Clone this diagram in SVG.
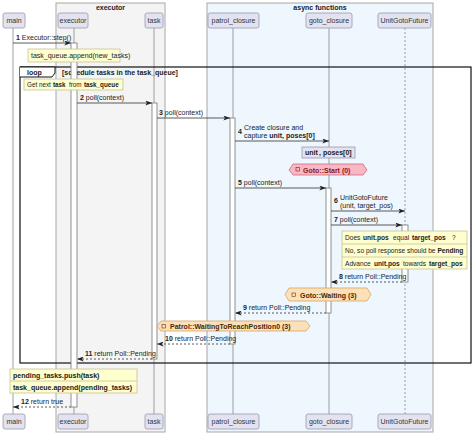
<svg xmlns="http://www.w3.org/2000/svg" width="474" height="435" viewBox="0 0 474 435">
<defs>
<style>
text{font-family:"Liberation Sans",Arial,sans-serif;font-size:7px;fill:#222}
.b{font-weight:bold}
.grp{stroke:#a8a8a8;stroke-width:1}
.part rect{fill:#e2e2f0;stroke:#9a9aae;stroke-width:0.8}
.part text{font-size:7px;text-anchor:middle;fill:#333}
.life{stroke:#888;stroke-width:0.8}
.act{fill:#fff;stroke:#777;stroke-width:0.8}
.msg{stroke:#333;stroke-width:0.8;fill:none}
.ret{stroke:#333;stroke-width:0.8;fill:none;stroke-dasharray:2,2}
.note{fill:#fefece;stroke:#c8c49a;stroke-width:0.8}
.nt{font-size:6.6px}
.ns{font-size:6.3px}
</style>
<marker id="ah" viewBox="0 0 8 6" refX="8" refY="3" markerWidth="7" markerHeight="5" orient="auto" markerUnits="userSpaceOnUse">
<path d="M0,0 L8,3 L0,6 L2,3 Z" fill="#222"/>
</marker>
</defs>

<!-- group boxes -->
<g id="box-executor">
<rect class="grp" x="56" y="3" width="109" height="429" fill="#f4f4f4"/>
<text class="b" x="110.5" y="10" text-anchor="middle">executor</text>
</g>
<g id="box-async">
<rect class="grp" x="207" y="3" width="226" height="429" fill="#eef6fe"/>
<text class="b" x="320" y="10" text-anchor="middle">async functions</text>
</g>

<!-- lifelines -->
<g id="lifelines">
<line class="life" x1="13" y1="28" x2="13" y2="414"/>
<line class="life" x1="74" y1="28" x2="74" y2="414"/>
<line class="life" x1="154" y1="28" x2="154" y2="414"/>
<line class="life" x1="233" y1="28" x2="233" y2="414"/>
<line class="life" x1="329" y1="28" x2="329" y2="414"/>
<line class="life" x1="405" y1="28" x2="405" y2="414" stroke-dasharray="2,2"/>
</g>

<!-- participants -->
<g id="p-main" class="part"><rect x="3" y="13" width="22" height="15" rx="2"/><text x="14" y="23">main</text>
<rect x="3" y="414" width="22" height="15" rx="2"/><text x="14" y="424">main</text></g>
<g id="p-executor" class="part"><rect x="58" y="13" width="30" height="15" rx="2"/><text x="73" y="23">executor</text>
<rect x="58" y="414" width="30" height="15" rx="2"/><text x="73" y="424">executor</text></g>
<g id="p-task" class="part"><rect x="145" y="13" width="18" height="15" rx="2"/><text x="154" y="23">task</text>
<rect x="145" y="414" width="18" height="15" rx="2"/><text x="154" y="424">task</text></g>
<g id="p-patrol" class="part"><rect x="208" y="13" width="51" height="15" rx="2"/><text x="233.5" y="23">patrol_closure</text>
<rect x="208" y="414" width="51" height="15" rx="2"/><text x="233.5" y="424">patrol_closure</text></g>
<g id="p-goto" class="part"><rect x="306" y="13" width="46" height="15" rx="2"/><text x="329" y="23">goto_closure</text>
<rect x="306" y="414" width="46" height="15" rx="2"/><text x="329" y="424">goto_closure</text></g>
<g id="p-future" class="part"><rect x="378" y="13" width="53" height="15" rx="2"/><text x="404.5" y="23">UnitGotoFuture</text>
<rect x="378" y="414" width="53" height="15" rx="2"/><text x="404.5" y="424">UnitGotoFuture</text></g>

<!-- loop frame -->
<g id="loop">
<rect x="20" y="67" width="451" height="296" fill="none" stroke="#111" stroke-width="1.2"/>
<path d="M20,67 H55 V73 L52,77 H20" fill="#fff" stroke="#111" stroke-width="1"/>
<text class="b" x="27" y="75">loop</text>
<text class="b" x="62" y="75" font-size="6.3">[schedule tasks in the task_queue]</text>
</g>

<!-- activations -->
<g id="activations">
<rect class="act" x="71" y="43" width="6" height="364"/>
<rect class="act" x="152" y="103" width="5" height="256"/>
<rect class="act" x="230" y="118" width="5" height="226"/>
<rect class="act" x="326" y="188" width="5" height="125"/>
<rect class="act" x="402" y="225" width="6" height="57"/>
</g>

<!-- notes -->
<g id="note-append">
<rect class="note" x="28" y="49" width="92" height="13"/>
<text x="31" y="58">task_queue.append(new_tasks)</text>
</g>
<g id="note-next">
<rect class="note" x="24" y="79" width="99" height="11"/>
<text class="ns" x="27" y="87">Get next</text>
<text class="ns b" x="53" y="87">task</text>
<text class="ns" x="69" y="87">from</text>
<text class="ns b" x="84" y="87">task_queue</text>
</g>
<g id="note-capture">
<rect x="302" y="147" width="53" height="11" fill="#e2e2f0" stroke="#9a9aae" stroke-width="0.8"/>
<text class="b" x="305" y="155">unit</text>
<text class="b" x="319" y="155">, poses[0]</text>
</g>
<g id="hex-start">
<polygon points="289,170 293,164 363,164 367,170 363,175 293,175" fill="#f7b7c3" stroke="#d06a80" stroke-width="0.8"/>
<rect x="296" y="167.5" width="3.5" height="3.5" fill="none" stroke="#8b1a1a" stroke-width="0.6"/>
<text class="b" x="303" y="172.5" style="fill:#8b1a1a">Goto::Start (0)</text>
</g>
<g id="note-future">
<rect class="note" x="342" y="231" width="125" height="38"/>
<line x1="342" y1="244" x2="467" y2="244" stroke="#c8c49a" stroke-width="0.8"/>
<line x1="342" y1="257" x2="467" y2="257" stroke="#c8c49a" stroke-width="0.8"/>
<text class="nt" x="345" y="240">Does</text>
<text class="nt b" x="363" y="240">unit.pos</text>
<text class="nt" x="393" y="240">equal</text>
<text class="nt b" x="412" y="240">target_pos</text>
<text class="nt" x="452" y="240">?</text>
<text class="nt" x="345" y="253">No, so poll response should be <tspan class="b">Pending</tspan></text>
<text class="nt" x="345" y="266">Advance</text>
<text class="nt b" x="374" y="266">unit.pos</text>
<text class="nt" x="403" y="266">towards</text>
<text class="nt b" x="429" y="266">target_pos</text>
</g>
<g id="hex-waiting">
<polygon points="285,294.5 289,288 367,288 371,294.5 367,301 289,301" fill="#fde0b8" stroke="#d4a46a" stroke-width="0.8"/>
<rect x="292" y="293" width="3.5" height="3.5" fill="none" stroke="#5a3a10" stroke-width="0.6"/>
<text class="b" x="300" y="297.5" style="fill:#4a2a00">Goto::Waiting (3)</text>
</g>
<g id="hex-patrol">
<polygon points="157,326 161,321 306,321 310,326 306,331 161,331" fill="#fde0b8" stroke="#d4a46a" stroke-width="0.8"/>
<rect x="162" y="324.5" width="3.5" height="3.5" fill="none" stroke="#5a3a10" stroke-width="0.6"/>
<text class="b" x="170" y="329" style="fill:#4a2a00">Patrol::WaitingToReachPosition0 (3)</text>
</g>
<g id="note-pending">
<rect class="note" x="10" y="369" width="127" height="24"/>
<line x1="10" y1="381" x2="137" y2="381" stroke="#c8c49a" stroke-width="0.8"/>
<text class="b" x="13" y="378">pending_tasks.push(task)</text>
<text class="b" x="13" y="390">task_queue.append(pending_tasks)</text>
</g>

<!-- connectors -->
<g id="connectors">
<line class="msg" x1="13" y1="43" x2="71" y2="43" marker-end="url(#ah)"/>
<text x="16" y="40"><tspan class="b">1</tspan> Executor::step()</text>

<line class="msg" x1="77" y1="103" x2="152" y2="103" marker-end="url(#ah)"/>
<text x="80" y="100"><tspan class="b">2</tspan> poll(context)</text>

<line class="msg" x1="157" y1="118" x2="230" y2="118" marker-end="url(#ah)"/>
<text x="159" y="115"><tspan class="b">3</tspan> poll(context)</text>

<line class="msg" x1="235" y1="141" x2="329" y2="141" marker-end="url(#ah)"/>
<text class="b" x="238" y="134">4</text>
<text x="244" y="130">Create closure and</text>
<text x="244" y="138">capture <tspan class="b">unit, poses[0]</tspan></text>

<line class="msg" x1="235" y1="188" x2="326" y2="188" marker-end="url(#ah)"/>
<text x="238" y="185"><tspan class="b">5</tspan> poll(context)</text>

<line class="msg" x1="331" y1="211" x2="405" y2="211" marker-end="url(#ah)"/>
<text class="b" x="334" y="203">6</text>
<text x="340" y="200">UnitGotoFuture</text>
<text x="340" y="208">(unit, target_pos)</text>

<line class="msg" x1="331" y1="225" x2="402" y2="225" marker-end="url(#ah)"/>
<text x="334" y="222"><tspan class="b">7</tspan> poll(context)</text>

<line class="ret" x1="402" y1="282" x2="331" y2="282" marker-end="url(#ah)"/>
<text x="339" y="279"><tspan class="b">8</tspan> return Poll::Pending</text>

<line class="ret" x1="326" y1="313" x2="235" y2="313" marker-end="url(#ah)"/>
<text x="243" y="310"><tspan class="b">9</tspan> return Poll::Pending</text>

<line class="ret" x1="230" y1="344" x2="157" y2="344" marker-end="url(#ah)"/>
<text x="165" y="341"><tspan class="b">10</tspan> return Poll::Pending</text>

<line class="ret" x1="152" y1="359" x2="77" y2="359" marker-end="url(#ah)"/>
<text x="85" y="356"><tspan class="b">11</tspan> return Poll::Pending</text>

<line class="ret" x1="71" y1="407" x2="13" y2="407" marker-end="url(#ah)"/>
<text x="21" y="404"><tspan class="b">12</tspan> return true</text>
</g>
</svg>
